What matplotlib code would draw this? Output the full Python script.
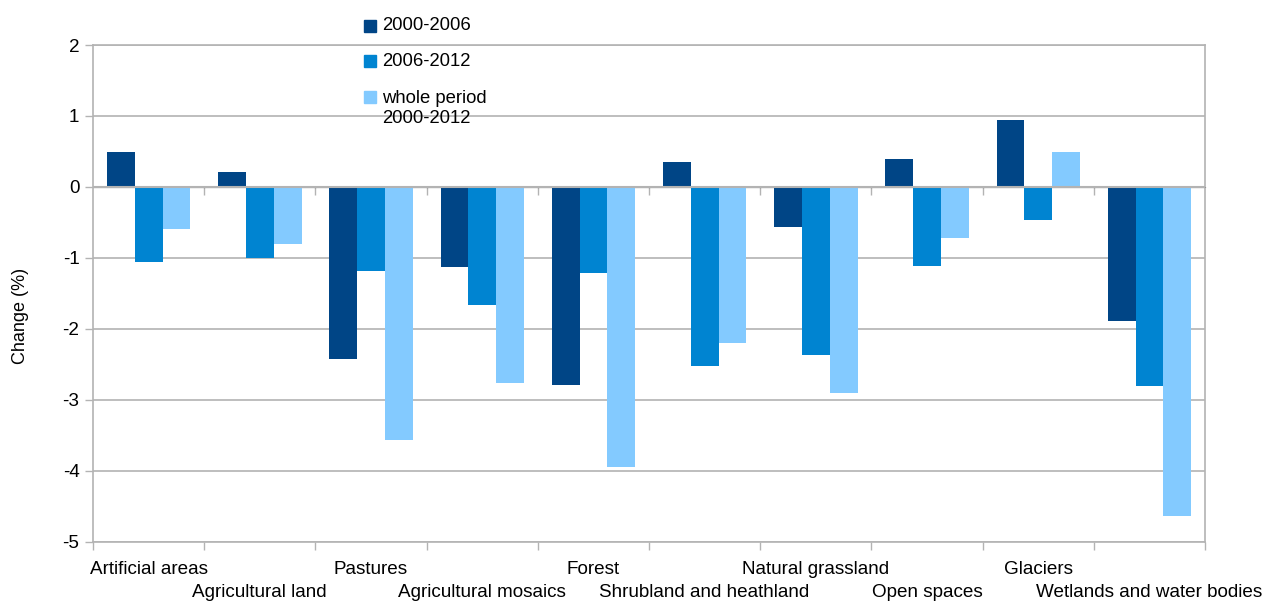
#!/usr/bin/env python3

import matplotlib
matplotlib.use('Agg')
import matplotlib.pyplot as plt
import matplotlib.transforms as mtransforms
from matplotlib.patches import Rectangle
import numpy as np

categories = ['Artificial areas', 'Agricultural land', 'Pastures',
              'Agricultural mosaics', 'Forest', 'Shrubland and heathland',
              'Natural grassland', 'Open spaces', 'Glaciers',
              'Wetlands and water bodies']
series_names = ['2000-2006', '2006-2012', 'whole period\n2000-2012']
change_2000_2006 = [0.49, 0.21, -2.43, -1.13, -2.79, 0.35, -0.57, 0.40, 0.95, -1.89]
change_2006_2012 = [-1.06, -1.0, -1.19, -1.66, -1.21, -2.53, -2.37, -1.12, -0.47, -2.81]
change_whole = [-0.6, -0.8, -3.57, -2.76, -3.95, -2.2, -2.9, -0.72, 0.49, -4.64]
yticks = [-5, -4, -3, -2, -1, 0, 1, 2]

colors = ['#004586', '#0084d1', '#83caff']
grid_col = '#b3b3b3'
W, H = 1267, 601


def main():
    plt.rcParams['font.family'] = ['Liberation Sans', 'DejaVu Sans']
    fig = plt.figure(figsize=(W / 100, H / 100), dpi=100)
    ax = fig.add_axes([93 / W, 1 - 541.7 / H, (1205 - 93) / W, (541.7 - 45) / H])

    x = np.arange(len(categories))
    width = 0.25
    all_series = [change_2000_2006, change_2006_2012, change_whole]
    for j, vals in enumerate(all_series):
        ax.bar(x + (j - 1) * width, vals, width, color=colors[j], zorder=3)

    ax.set_xlim(-0.5, len(categories) - 0.5)
    ax.set_ylim(-5, 2)
    ax.set_yticks(yticks)
    ax.set_yticklabels([str(t) for t in yticks])
    ax.yaxis.grid(True, color=grid_col, lw=1.2, zorder=0)
    ax.axhline(0, color=grid_col, lw=1.5, zorder=4)

    # boundary ticks at the bottom
    ax.set_xticks(np.arange(-0.5, len(categories)))
    ax.set_xticklabels([])
    ax.tick_params(axis='x', length=5.8, width=1, color=grid_col)
    ax.tick_params(axis='y', length=5.8, width=1, color=grid_col, pad=4,
                   labelsize=13.6)

    # staggered category labels
    for i, c in enumerate(categories):
        off = 13.8 if i % 2 == 0 else 30.3
        tr = mtransforms.offset_copy(ax.get_xaxis_transform(), fig=fig,
                                     x=0, y=-off, units='points')
        ax.text(i, 0, c, transform=tr, ha='center', va='top', fontsize=13.6,
                clip_on=False)

    # tick marks on the zero line
    zero_ax = ax.secondary_xaxis(5 / 7)
    zero_ax.set_xticks(np.arange(0.5, len(categories) - 1))
    zero_ax.set_xticklabels([])
    zero_ax.tick_params(axis='x', direction='out', length=5.8, width=1,
                        color=grid_col)
    zero_ax.spines['bottom'].set_visible(False)
    zero_ax.xaxis.set_ticks_position('bottom')

    for s in ax.spines.values():
        s.set_color(grid_col)
        s.set_linewidth(1.2)

    fig.text(21 / W, 1 - 316 / H, 'Change (%)', rotation=90,
             ha='center', va='center', fontsize=13)

    # legend
    ys = [26, 61, 97]
    for j, name in enumerate(series_names):
        fig.patches.append(Rectangle((364 / W, 1 - (ys[j] + 6) / H), 12 / W, 12 / H,
                                     color=colors[j], transform=fig.transFigure))
        if '\n' in name:
            fig.text(382 / W, 1 - (ys[j] - 7) / H, name, fontsize=13.3,
                     ha='left', va='top', linespacing=1.25)
        else:
            fig.text(382 / W, 1 - ys[j] / H, name, fontsize=13.3,
                     ha='left', va='center')

    fig.savefig('out.png', dpi=100)


if __name__ == '__main__':
    main()
